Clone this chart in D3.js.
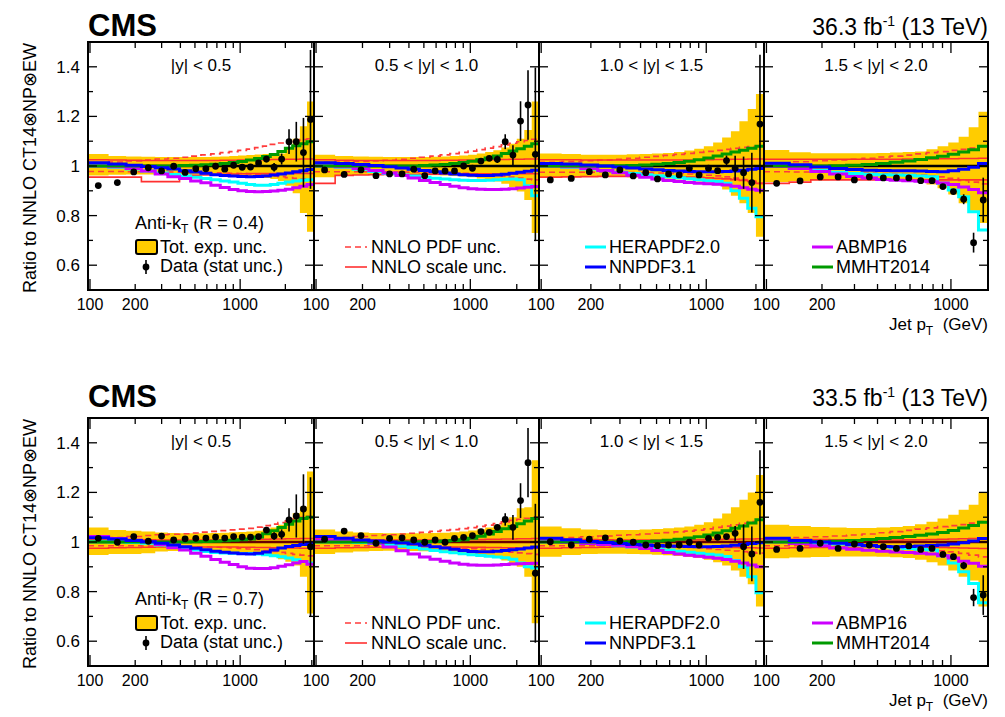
<!DOCTYPE html>
<html><head><meta charset="utf-8">
<script src="https://cdn.jsdelivr.net/npm/d3@7"></script>
<style>body{margin:0;background:#fff} svg{display:block} text{font-family:"Liberation Sans",Arial,Helvetica,sans-serif;fill:#000}</style>
</head><body><svg id="c" width="1005" height="717"></svg>
<script>
// ---------- shared axis data ----------
const binEdges = [97,133,174,220,272,330,395,468,548,638,737,846,967,1101,1248,1410,1588,1784,2000,2238,2500,2787,3103];
const rapidityLabels = ["|y| < 0.5","0.5 < |y| < 1.0","1.0 < |y| < 1.5","1.5 < |y| < 2.0"];
const yTickValues = [0.6,0.7,0.8,0.9,1.0,1.1,1.2,1.3,1.4];
const yTickLabels = ["0.6","0.8","1","1.2","1.4"];
const xMajorTicks = [100,1000];
const xMinorTicks = [200,300,400,500,600,700,800,900,2000,3000];
const xTickLabels = [100,200,1000];
const lumiLabels = ["36.3","33.5"];
const coneLabels = ["0.4","0.7"];
const legendPanel2 = ["NNLO PDF unc.","NNLO scale unc."];
const legendPanel3 = ["HERAPDF2.0","NNPDF3.1"];
const legendPanel4 = ["ABMP16","MMHT2014"];

// ---------- R = 0.4, |y|<0.5 ----------
const r04y1_data = [0.921,0.933,0.976,0.993,0.980,0.999,0.974,0.989,0.989,0.999,0.987,1.003,0.995,0.996,1.012,1.028,0.995,1.028,1.098,1.098,1.054,1.188];
const r04y1_err = [0.003,0.003,0.003,0.003,0.003,0.003,0.003,0.003,0.004,0.004,0.005,0.006,0.007,0.008,0.01,0.013,0.017,0.022,0.05,0.08,0.14,0.28];
const r04y1_bandHi = [1.048,1.04,1.038,1.037,1.036,1.036,1.036,1.036,1.036,1.037,1.038,1.04,1.042,1.044,1.046,1.048,1.05,1.05,1.07,1.11,1.16,1.26];
const r04y1_bandLo = [0.962,0.965,0.966,0.966,0.966,0.966,0.966,0.965,0.965,0.964,0.963,0.962,0.96,0.958,0.955,0.952,0.948,0.94,0.92,0.89,0.81,0.735];
const r04y1_pdfHi = [1.012,1.016,1.02,1.024,1.028,1.031,1.035,1.04,1.045,1.049,1.054,1.058,1.063,1.068,1.074,1.08,1.087,1.093,1.099,1.103,1.107,1.11];
const r04y1_pdfLo = [0.978,0.978,0.977,0.977,0.976,0.976,0.975,0.975,0.974,0.973,0.972,0.971,0.97,0.968,0.966,0.963,0.96,0.957,0.953,0.95,0.947,0.944];
const r04y1_scaleHi = [1.025,1.024,1.023,1.022,1.022,1.022,1.022,1.022,1.022,1.022,1.023,1.023,1.024,1.024,1.025,1.025,1.026,1.026,1.027,1.027,1.028,1.028];
const r04y1_scaleLo = [0.955,0.955,0.955,0.937,0.937,0.937,0.958,0.962,0.964,0.966,0.967,0.968,0.969,0.97,0.97,0.97,0.97,0.97,0.97,0.97,0.97,0.97];
const r04y1_hera = [1.0,0.995,0.988,0.98,0.972,0.966,0.96,0.955,0.95,0.945,0.94,0.935,0.93,0.925,0.922,0.922,0.925,0.93,0.935,0.94,0.943,0.945];
const r04y1_nnpdf = [1.013,1.008,1.003,0.998,0.993,0.988,0.981,0.976,0.971,0.965,0.962,0.96,0.958,0.957,0.958,0.96,0.964,0.968,0.972,0.977,0.981,0.986];
const r04y1_abmp = [1.0,0.997,0.99,0.98,0.968,0.957,0.95,0.94,0.932,0.922,0.913,0.905,0.9,0.897,0.896,0.897,0.899,0.902,0.906,0.912,0.918,0.925];
const r04y1_mmht = [1.0,1.0,1.0,1.0,1.0,1.0,1.002,1.003,1.005,1.007,1.01,1.014,1.018,1.024,1.03,1.038,1.046,1.058,1.072,1.082,1.09,1.098];

// ---------- R = 0.4, 0.5<|y|<1.0 ----------
const r04y2_data = [0.984,0.966,0.984,0.961,0.968,0.968,0.987,0.961,0.980,0.980,0.980,1.0,0.991,1.020,1.031,1.027,1.098,1.044,1.181,1.246,1.047];
const r04y2_err = [0.003,0.003,0.003,0.003,0.003,0.003,0.003,0.003,0.003,0.003,0.004,0.005,0.006,0.008,0.01,0.015,0.03,0.04,0.08,0.14,0.35];
const r04y2_bandHi = [1.045,1.04,1.038,1.037,1.036,1.036,1.036,1.036,1.037,1.038,1.04,1.042,1.045,1.05,1.056,1.064,1.075,1.09,1.11,1.145,1.26];
const r04y2_bandLo = [0.955,0.962,0.964,0.965,0.965,0.965,0.965,0.964,0.963,0.962,0.96,0.958,0.955,0.95,0.945,0.938,0.928,0.915,0.897,0.863,0.73];
const r04y2_pdfHi = [1.015,1.016,1.018,1.02,1.023,1.027,1.031,1.035,1.04,1.045,1.05,1.055,1.06,1.066,1.072,1.078,1.085,1.092,1.098,1.103,1.108];
const r04y2_pdfLo = [0.977,0.977,0.977,0.976,0.976,0.976,0.975,0.975,0.974,0.973,0.972,0.971,0.969,0.967,0.965,0.962,0.959,0.955,0.951,0.947,0.944];
const r04y2_scaleHi = [1.025,1.023,1.022,1.022,1.022,1.022,1.022,1.022,1.022,1.023,1.023,1.024,1.024,1.025,1.025,1.026,1.026,1.027,1.027,1.028,1.028];
const r04y2_scaleLo = [0.93,0.962,0.964,0.965,0.966,0.966,0.966,0.967,0.967,0.968,0.968,0.968,0.969,0.969,0.969,0.969,0.969,0.969,0.969,0.969,0.969];
const r04y2_hera = [1.0,0.995,0.987,0.978,0.97,0.964,0.96,0.955,0.951,0.948,0.945,0.943,0.942,0.942,0.943,0.945,0.947,0.948,0.945,0.92,0.88];
const r04y2_nnpdf = [1.013,1.01,1.006,1.002,0.997,0.992,0.987,0.982,0.977,0.972,0.968,0.965,0.963,0.962,0.962,0.964,0.967,0.971,0.975,0.979,0.983];
const r04y2_abmp = [1.0,0.997,0.99,0.982,0.972,0.962,0.952,0.942,0.933,0.925,0.918,0.912,0.908,0.906,0.905,0.905,0.906,0.908,0.911,0.914,0.917];
const r04y2_mmht = [1.0,1.0,1.0,1.0,1.0,1.0,1.0,1.002,1.004,1.006,1.01,1.014,1.019,1.025,1.032,1.04,1.05,1.06,1.07,1.08,1.09];

// ---------- R = 0.4, 1.0<|y|<1.5 ----------
const r04y3_data = [0.944,0.950,0.977,0.964,0.984,0.960,0.973,0.948,0.968,0.964,0.991,0.964,0.991,0.981,1.022,0.991,0.973,0.933,1.169];
const r04y3_err = [0.003,0.003,0.003,0.003,0.003,0.003,0.003,0.003,0.003,0.003,0.003,0.003,0.006,0.01,0.02,0.05,0.065,0.12,0.28];
const r04y3_bandHi = [1.05,1.048,1.045,1.045,1.045,1.047,1.048,1.05,1.052,1.056,1.062,1.07,1.08,1.095,1.115,1.14,1.18,1.23,1.29];
const r04y3_bandLo = [0.953,0.955,0.958,0.958,0.957,0.955,0.953,0.951,0.949,0.946,0.943,0.938,0.932,0.922,0.905,0.88,0.85,0.81,0.715];
const r04y3_pdfHi = [1.015,1.018,1.021,1.024,1.027,1.031,1.035,1.039,1.043,1.047,1.051,1.055,1.059,1.063,1.067,1.071,1.075,1.078,1.08];
const r04y3_pdfLo = [0.975,0.975,0.975,0.975,0.974,0.974,0.973,0.972,0.971,0.97,0.968,0.966,0.963,0.96,0.956,0.951,0.945,0.938,0.93];
const r04y3_scaleHi = [1.025,1.025,1.024,1.024,1.024,1.024,1.024,1.024,1.024,1.024,1.024,1.025,1.025,1.026,1.026,1.027,1.027,1.028,1.028];
const r04y3_scaleLo = [0.955,0.956,0.957,0.958,0.958,0.958,0.958,0.958,0.957,0.956,0.955,0.954,0.952,0.95,0.948,0.945,0.942,0.938,0.93];
const r04y3_hera = [1.0,0.995,0.988,0.981,0.975,0.97,0.965,0.961,0.957,0.953,0.949,0.945,0.941,0.937,0.93,0.9,0.87,0.83,0.795];
const r04y3_nnpdf = [1.01,1.008,1.004,1.0,0.996,0.992,0.988,0.985,0.982,0.98,0.978,0.977,0.977,0.977,0.978,0.98,0.983,0.987,0.99];
const r04y3_abmp = [1.0,0.997,0.99,0.982,0.973,0.963,0.955,0.948,0.942,0.937,0.933,0.93,0.928,0.926,0.923,0.918,0.912,0.906,0.902];
const r04y3_mmht = [1.0,1.0,1.0,1.0,1.001,1.002,1.004,1.007,1.01,1.014,1.019,1.025,1.032,1.04,1.048,1.056,1.064,1.072,1.08];

// ---------- R = 0.4, 1.5<|y|<2.0 ----------
const r04y4_data = [0.930,0.940,0.956,0.956,0.944,0.956,0.952,0.952,0.952,0.941,0.941,0.917,0.897,0.866,0.691,0.863];
const r04y4_err = [0.003,0.003,0.003,0.003,0.003,0.003,0.003,0.003,0.003,0.003,0.004,0.006,0.01,0.02,0.04,0.09];
const r04y4_bandHi = [1.065,1.055,1.051,1.051,1.051,1.051,1.052,1.054,1.056,1.058,1.068,1.08,1.095,1.118,1.156,1.219];
const r04y4_bandLo = [0.935,0.94,0.943,0.945,0.946,0.946,0.945,0.943,0.94,0.935,0.925,0.91,0.885,0.85,0.82,0.77];
const r04y4_pdfHi = [1.013,1.017,1.021,1.024,1.027,1.031,1.036,1.04,1.044,1.049,1.054,1.058,1.063,1.067,1.072,1.078];
const r04y4_pdfLo = [0.977,0.976,0.975,0.974,0.973,0.972,0.97,0.968,0.966,0.964,0.96,0.956,0.95,0.942,0.935,0.928];
const r04y4_scaleHi = [1.027,1.027,1.027,1.027,1.027,1.027,1.027,1.027,1.028,1.028,1.028,1.029,1.029,1.03,1.03,1.031];
const r04y4_scaleLo = [0.93,0.935,0.944,0.944,0.944,0.944,0.944,0.944,0.944,0.944,0.944,0.944,0.944,0.944,0.944,0.944];
const r04y4_hera = [0.998,0.99,0.982,0.975,0.97,0.967,0.965,0.964,0.963,0.96,0.957,0.93,0.903,0.876,0.816,0.742];
const r04y4_nnpdf = [1.011,1.005,0.996,0.99,0.986,0.983,0.982,0.981,0.981,0.98,0.978,0.977,0.981,0.987,0.995,1.01];
const r04y4_abmp = [0.998,0.99,0.978,0.968,0.958,0.952,0.946,0.943,0.941,0.939,0.936,0.931,0.925,0.915,0.905,0.892];
const r04y4_mmht = [1.0,1.0,1.0,1.001,1.003,1.006,1.01,1.015,1.02,1.026,1.033,1.039,1.047,1.056,1.066,1.08];

// ---------- R = 0.7, |y|<0.5 ----------
const r07y1_data = [1.015,0.999,1.022,1.003,1.024,1.008,1.013,1.015,1.016,1.02,1.016,1.022,1.02,1.02,1.022,1.048,1.024,1.031,1.089,1.105,1.133,0.981];
const r07y1_err = [0.002,0.002,0.002,0.002,0.002,0.002,0.002,0.002,0.002,0.002,0.002,0.002,0.002,0.002,0.004,0.006,0.015,0.02,0.047,0.087,0.14,0.28];
const r07y1_bandHi = [1.058,1.048,1.045,1.042,1.038,1.036,1.035,1.035,1.035,1.036,1.037,1.039,1.04,1.042,1.045,1.05,1.058,1.07,1.089,1.116,1.142,1.284];
const r07y1_bandLo = [0.948,0.952,0.952,0.955,0.962,0.964,0.965,0.965,0.964,0.963,0.962,0.96,0.958,0.955,0.952,0.948,0.942,0.93,0.92,0.905,0.86,0.712];
const r07y1_pdfHi = [1.015,1.018,1.022,1.026,1.029,1.031,1.033,1.036,1.04,1.043,1.046,1.049,1.052,1.055,1.06,1.066,1.072,1.078,1.085,1.093,1.1,1.104];
const r07y1_pdfLo = [0.985,0.985,0.985,0.984,0.984,0.983,0.982,0.981,0.98,0.979,0.978,0.976,0.974,0.972,0.969,0.966,0.962,0.958,0.954,0.95,0.947,0.944];
const r07y1_scaleHi = [1.012,1.011,1.01,1.009,1.008,1.008,1.008,1.008,1.008,1.008,1.009,1.009,1.01,1.01,1.011,1.011,1.012,1.012,1.013,1.013,1.014,1.014];
const r07y1_scaleLo = [0.975,0.977,0.978,0.979,0.98,0.98,0.98,0.98,0.98,0.98,0.98,0.98,0.979,0.979,0.978,0.978,0.977,0.977,0.976,0.976,0.975,0.975];
const r07y1_hera = [1.001,1.0,0.998,0.995,0.988,0.981,0.974,0.968,0.962,0.958,0.956,0.955,0.954,0.954,0.952,0.949,0.945,0.941,0.935,0.928,0.921,0.915];
const r07y1_nnpdf = [1.017,1.012,1.006,1.001,0.995,0.988,0.981,0.975,0.969,0.963,0.959,0.956,0.953,0.952,0.955,0.96,0.968,0.976,0.982,0.986,0.99,0.995];
const r07y1_abmp = [1.022,1.014,1.007,1.001,0.99,0.977,0.968,0.955,0.943,0.929,0.918,0.909,0.9,0.894,0.893,0.893,0.896,0.902,0.908,0.915,0.921,0.91];
const r07y1_mmht = [1.0,1.0,1.0,1.0,1.0,1.0,1.0,1.001,1.002,1.003,1.005,1.007,1.009,1.012,1.02,1.033,1.045,1.058,1.072,1.085,1.095,1.1];

// ---------- R = 0.7, 0.5<|y|<1.0 ----------
const r07y2_data = [1.011,1.044,1.026,0.995,1.015,1.017,1.008,0.999,1.008,0.999,1.015,1.019,1.026,1.042,1.039,1.059,1.091,1.059,1.167,1.32,0.874];
const r07y2_err = [0.002,0.002,0.002,0.002,0.002,0.002,0.002,0.002,0.002,0.002,0.002,0.002,0.002,0.004,0.006,0.01,0.025,0.05,0.07,0.14,0.28];
const r07y2_bandHi = [1.05,1.042,1.038,1.036,1.035,1.035,1.035,1.035,1.036,1.037,1.039,1.042,1.046,1.051,1.058,1.067,1.08,1.1,1.136,1.14,1.33];
const r07y2_bandLo = [0.952,0.958,0.962,0.964,0.965,0.965,0.964,0.963,0.962,0.96,0.958,0.955,0.952,0.948,0.943,0.935,0.925,0.914,0.9,0.86,0.672];
const r07y2_pdfHi = [1.015,1.018,1.022,1.026,1.029,1.032,1.035,1.039,1.043,1.047,1.05,1.054,1.058,1.063,1.068,1.074,1.081,1.087,1.092,1.096,1.1];
const r07y2_pdfLo = [0.985,0.985,0.985,0.984,0.984,0.983,0.982,0.981,0.98,0.979,0.977,0.975,0.973,0.971,0.968,0.965,0.962,0.959,0.956,0.953,0.95];
const r07y2_scaleHi = [1.012,1.011,1.01,1.009,1.008,1.008,1.008,1.008,1.008,1.008,1.009,1.009,1.01,1.01,1.011,1.011,1.012,1.012,1.013,1.013,1.014];
const r07y2_scaleLo = [0.975,0.977,0.978,0.979,0.98,0.98,0.98,0.98,0.98,0.98,0.98,0.98,0.979,0.979,0.978,0.978,0.977,0.977,0.976,0.976,0.975];
const r07y2_hera = [1.001,1.0,0.998,0.994,0.988,0.983,0.978,0.972,0.966,0.961,0.957,0.953,0.949,0.946,0.943,0.94,0.936,0.93,0.915,0.9,0.895];
const r07y2_nnpdf = [1.022,1.015,1.008,1.004,1.0,0.996,0.992,0.987,0.981,0.976,0.971,0.966,0.962,0.961,0.961,0.963,0.966,0.969,0.972,0.976,0.98];
const r07y2_abmp = [1.008,1.005,1.002,0.995,0.98,0.965,0.952,0.94,0.93,0.922,0.915,0.91,0.907,0.906,0.906,0.907,0.909,0.911,0.912,0.913,0.914];
const r07y2_mmht = [1.0,1.0,1.0,1.0,1.0,1.0,1.0,1.001,1.002,1.004,1.006,1.009,1.015,1.023,1.032,1.042,1.053,1.063,1.074,1.085,1.095];

// ---------- R = 0.7, 1.0<|y|<1.5 ----------
const r07y3_data = [1.001,0.988,1.011,1.017,1.004,0.999,0.988,0.985,0.988,0.988,0.999,0.988,1.015,1.019,1.022,1.035,0.981,0.952,1.16];
const r07y3_err = [0.002,0.002,0.002,0.002,0.002,0.002,0.002,0.002,0.002,0.002,0.002,0.002,0.004,0.006,0.01,0.03,0.09,0.11,0.21];
const r07y3_bandHi = [1.062,1.055,1.05,1.048,1.048,1.048,1.05,1.052,1.055,1.058,1.063,1.07,1.08,1.095,1.115,1.14,1.17,1.2,1.27];
const r07y3_bandLo = [0.941,0.948,0.952,0.953,0.953,0.952,0.951,0.949,0.947,0.944,0.94,0.935,0.928,0.918,0.905,0.885,0.86,0.83,0.74];
const r07y3_pdfHi = [1.015,1.018,1.021,1.024,1.027,1.029,1.032,1.035,1.038,1.041,1.044,1.048,1.053,1.059,1.064,1.069,1.075,1.082,1.089];
const r07y3_pdfLo = [0.985,0.985,0.985,0.985,0.984,0.984,0.983,0.982,0.981,0.98,0.978,0.976,0.973,0.97,0.967,0.964,0.961,0.958,0.955];
const r07y3_scaleHi = [1.012,1.011,1.01,1.009,1.008,1.008,1.008,1.008,1.008,1.008,1.009,1.009,1.01,1.01,1.011,1.011,1.012,1.012,1.013];
const r07y3_scaleLo = [0.975,0.977,0.978,0.979,0.98,0.98,0.98,0.98,0.98,0.98,0.98,0.98,0.979,0.979,0.978,0.978,0.977,0.977,0.976];
const r07y3_hera = [1.001,0.998,0.994,0.99,0.985,0.98,0.976,0.972,0.968,0.963,0.959,0.955,0.951,0.948,0.942,0.925,0.9,0.86,0.795];
const r07y3_nnpdf = [1.015,1.009,1.002,0.998,0.994,0.99,0.988,0.986,0.984,0.983,0.982,0.981,0.981,0.982,0.984,0.987,0.99,0.994,0.997];
const r07y3_abmp = [1.001,0.998,0.994,0.99,0.987,0.981,0.974,0.966,0.958,0.952,0.947,0.943,0.939,0.934,0.929,0.922,0.915,0.907,0.9];
const r07y3_mmht = [1.0,1.0,1.0,1.0,1.0,1.001,1.002,1.004,1.007,1.011,1.016,1.021,1.028,1.036,1.045,1.055,1.065,1.077,1.09];

// ---------- R = 0.7, 1.5<|y|<2.0 ----------
const r07y4_data = [0.970,0.974,0.995,0.974,0.992,0.988,0.981,0.974,0.984,0.970,0.974,0.950,0.941,0.905,0.776,0.786];
const r07y4_err = [0.003,0.003,0.003,0.003,0.003,0.003,0.003,0.003,0.003,0.003,0.003,0.003,0.005,0.015,0.035,0.08];
const r07y4_bandHi = [1.07,1.065,1.06,1.058,1.056,1.056,1.058,1.06,1.065,1.072,1.082,1.095,1.11,1.13,1.15,1.2];
const r07y4_bandLo = [0.934,0.938,0.94,0.942,0.942,0.942,0.941,0.939,0.935,0.928,0.918,0.905,0.885,0.86,0.845,0.74];
const r07y4_pdfHi = [1.015,1.018,1.021,1.024,1.028,1.032,1.037,1.042,1.047,1.052,1.057,1.062,1.066,1.07,1.076,1.082];
const r07y4_pdfLo = [0.985,0.985,0.984,0.983,0.982,0.981,0.979,0.977,0.975,0.972,0.969,0.965,0.96,0.954,0.947,0.94];
const r07y4_scaleHi = [1.012,1.011,1.01,1.009,1.008,1.008,1.008,1.008,1.009,1.009,1.01,1.011,1.012,1.013,1.014,1.015];
const r07y4_scaleLo = [0.975,0.977,0.978,0.979,0.98,0.98,0.98,0.98,0.98,0.979,0.979,0.978,0.977,0.976,0.975,0.974];
const r07y4_hera = [1.001,0.998,0.995,0.992,0.988,0.985,0.981,0.977,0.974,0.971,0.968,0.945,0.915,0.88,0.833,0.755];
const r07y4_nnpdf = [1.015,1.006,1.0,0.995,0.99,0.986,0.982,0.981,0.982,0.984,0.986,0.988,0.992,0.997,1.004,1.014];
const r07y4_abmp = [1.001,0.994,0.985,0.976,0.971,0.967,0.963,0.96,0.958,0.955,0.952,0.945,0.935,0.922,0.914,0.902];
const r07y4_mmht = [1.0,1.0,1.001,1.003,1.006,1.01,1.014,1.018,1.022,1.027,1.032,1.038,1.046,1.056,1.067,1.08];

// ---------- assemble ----------
function panel(data,err,bandHi,bandLo,pdfHi,pdfLo,scaleHi,scaleLo,hera,nnpdf,abmp,mmht){
  return {data,err,bandHi,bandLo,pdfHi,pdfLo,scaleHi,scaleLo,hera,nnpdf,abmp,mmht};
}
const plots = [
  {id:"a", top:42, cmsY:36, lineOne:"#000",
   panels:[
    panel(r04y1_data,r04y1_err,r04y1_bandHi,r04y1_bandLo,r04y1_pdfHi,r04y1_pdfLo,r04y1_scaleHi,r04y1_scaleLo,r04y1_hera,r04y1_nnpdf,r04y1_abmp,r04y1_mmht),
    panel(r04y2_data,r04y2_err,r04y2_bandHi,r04y2_bandLo,r04y2_pdfHi,r04y2_pdfLo,r04y2_scaleHi,r04y2_scaleLo,r04y2_hera,r04y2_nnpdf,r04y2_abmp,r04y2_mmht),
    panel(r04y3_data,r04y3_err,r04y3_bandHi,r04y3_bandLo,r04y3_pdfHi,r04y3_pdfLo,r04y3_scaleHi,r04y3_scaleLo,r04y3_hera,r04y3_nnpdf,r04y3_abmp,r04y3_mmht),
    panel(r04y4_data,r04y4_err,r04y4_bandHi,r04y4_bandLo,r04y4_pdfHi,r04y4_pdfLo,r04y4_scaleHi,r04y4_scaleLo,r04y4_hera,r04y4_nnpdf,r04y4_abmp,r04y4_mmht)]},
  {id:"b", top:418, cmsY:407, lineOne:"#6a0000",
   panels:[
    panel(r07y1_data,r07y1_err,r07y1_bandHi,r07y1_bandLo,r07y1_pdfHi,r07y1_pdfLo,r07y1_scaleHi,r07y1_scaleLo,r07y1_hera,r07y1_nnpdf,r07y1_abmp,r07y1_mmht),
    panel(r07y2_data,r07y2_err,r07y2_bandHi,r07y2_bandLo,r07y2_pdfHi,r07y2_pdfLo,r07y2_scaleHi,r07y2_scaleLo,r07y2_hera,r07y2_nnpdf,r07y2_abmp,r07y2_mmht),
    panel(r07y3_data,r07y3_err,r07y3_bandHi,r07y3_bandLo,r07y3_pdfHi,r07y3_pdfLo,r07y3_scaleHi,r07y3_scaleLo,r07y3_hera,r07y3_nnpdf,r07y3_abmp,r07y3_mmht),
    panel(r07y4_data,r07y4_err,r07y4_bandHi,r07y4_bandLo,r07y4_pdfHi,r07y4_pdfLo,r07y4_scaleHi,r07y4_scaleLo,r07y4_hera,r07y4_nnpdf,r07y4_abmp,r07y4_mmht)]}
];

const C = {band:"#ffcc00", pdf:"#ff3b3b", scale:"#ff3030", hera:"#00ffff", nnpdf:"#0000ff", abmp:"#cc00ff", mmht:"#009a00"};
const svg = d3.select("#c");
const defs = svg.append("defs");
const panelLeft = [88,314,539,764], panelRight = [314,539,764,988];
const H = 248;

plots.forEach((spec, pi) => {
  const top = spec.top, bot = top + H;
  const y = d3.scaleLinear().domain([0.5,1.5]).range([bot, top]);

  spec.panels.forEach((P, i) => {
    const L = panelLeft[i], R = panelRight[i];
    const nb = P.data.length;
    const edges = binEdges.slice(0, nb + 1);
    const x = d3.scaleLog().domain([edges[0], edges[nb]]).range([L, R]);
    const clipId = "clip" + spec.id + i;
    defs.append("clipPath").attr("id", clipId).append("rect")
      .attr("x", L).attr("y", top).attr("width", R - L).attr("height", H);
    const g = svg.append("g");
    const cg = g.append("g").attr("clip-path", `url(#${clipId})`);

    const steps = vals => { const p = []; vals.forEach((v,k) => { p.push([edges[k], v]); p.push([edges[k+1], v]); }); return p; };
    const line = d3.line().x(d => x(d[0])).y(d => y(d[1]));
    const bandPts = []; P.bandHi.forEach((h,k) => { bandPts.push([edges[k], P.bandLo[k], h]); bandPts.push([edges[k+1], P.bandLo[k], h]); });
    cg.append("path").attr("d", d3.area().x(d => x(d[0])).y0(d => y(d[1])).y1(d => y(d[2]))(bandPts)).attr("fill", C.band);

    const drawLine = (vals, color, w, dash) => {
      const p = cg.append("path").attr("d", line(steps(vals))).attr("fill","none").attr("stroke", color).attr("stroke-width", w);
      if (dash) p.attr("stroke-dasharray", dash);
    };
    drawLine(P.pdfHi, C.pdf, 1.6, "6,4");
    drawLine(P.pdfLo, C.pdf, 1.6, "6,4");
    drawLine(P.scaleHi, C.scale, 1.6);
    drawLine(P.scaleLo, C.scale, 1.6);
    cg.append("line").attr("x1", L).attr("x2", R).attr("y1", y(1)).attr("y2", y(1)).attr("stroke", spec.lineOne).attr("stroke-width", 2.5);
    drawLine(P.hera, C.hera, 3);
    drawLine(P.abmp, C.abmp, 3);
    drawLine(P.mmht, C.mmht, 3);
    drawLine(P.nnpdf, C.nnpdf, 3);

    // data
    const centers = P.data.map((v,k) => Math.sqrt(edges[k] * edges[k+1]));
    cg.selectAll(null).data(P.data).enter().append("line")
      .attr("x1", (d,k) => x(centers[k])).attr("x2", (d,k) => x(centers[k]))
      .attr("y1", (d,k) => y(d - P.err[k])).attr("y2", (d,k) => y(d + P.err[k]))
      .attr("stroke", "#000").attr("stroke-width", 1.6);
    cg.selectAll(null).data(P.data).enter().append("circle")
      .attr("cx", (d,k) => x(centers[k])).attr("cy", d => y(d)).attr("r", 3.4).attr("fill", "#000");

    // ticks
    const ax = g.append("g").attr("stroke", "#000").attr("stroke-width", 1.3);
    yTickValues.forEach(v => {
      const major = Math.abs((v * 10) % 2) < 0.01 || Math.abs((v*10)%2 - 2) < 0.01;
      const len = major ? 9 : 5;
      ax.append("line").attr("x1", L).attr("x2", L + len).attr("y1", y(v)).attr("y2", y(v));
      ax.append("line").attr("x1", R).attr("x2", R - len).attr("y1", y(v)).attr("y2", y(v));
    });
    const xd = x.domain();
    xMajorTicks.concat(xMinorTicks).filter(t => t >= xd[0] && t <= xd[1]).forEach(t => {
      const len = xMajorTicks.includes(t) ? 11 : 6;
      ax.append("line").attr("x1", x(t)).attr("x2", x(t)).attr("y1", bot).attr("y2", bot - len);
      ax.append("line").attr("x1", x(t)).attr("x2", x(t)).attr("y1", top).attr("y2", top + len);
    });
    // frame
    g.append("rect").attr("x", L).attr("y", top).attr("width", R - L).attr("height", H)
      .attr("fill", "none").attr("stroke", "#000").attr("stroke-width", 2);

    // x tick labels
    xTickLabels.forEach(t => {
      g.append("text").attr("x", x(t)).attr("y", bot + 20).attr("text-anchor", "middle")
        .attr("font-size", 16).text(t);
    });
    // panel title
    g.append("text").attr("x", (L + R) / 2).attr("y", top + 29).attr("text-anchor", "middle")
      .attr("font-size", 17).text(rapidityLabels[i]);

    // legends
    const ly1 = top + 205, ly2 = top + 225;
    if (i === 0) {
      const t = g.append("text").attr("x", L + 47).attr("y", top + 187).attr("font-size", 18);
      t.append("tspan").text("Anti-k");
      t.append("tspan").attr("font-size", 12).attr("dy", 4).text("T");
      t.append("tspan").attr("dy", -4).text(" (R = " + coneLabels[pi] + ")");
      g.append("rect").attr("x", L + 48).attr("y", top + 198).attr("width", 21).attr("height", 14)
        .attr("fill", C.band).attr("stroke", "#000").attr("stroke-width", 2).attr("rx", 2);
      g.append("text").attr("x", L + 72).attr("y", top + 211).attr("font-size", 18).text("Tot. exp. unc.");
      g.append("line").attr("x1", L + 58).attr("x2", L + 58).attr("y1", ly2 - 7).attr("y2", ly2 + 7).attr("stroke", "#000").attr("stroke-width", 1.6);
      g.append("circle").attr("cx", L + 58).attr("cy", ly2).attr("r", 3.4).attr("fill", "#000");
      g.append("text").attr("x", L + 72).attr("y", top + 230).attr("font-size", 18).text("Data (stat unc.)");
    } else {
      const cfg = [null,
        {x0:31, x1:53, tx:57, labels:legendPanel2, items:[[C.pdf,1.6,"6,4"],[C.scale,1.6,null]]},
        {x0:46, x1:67, tx:70, labels:legendPanel3, items:[[C.hera,3,null],[C.nnpdf,3,null]]},
        {x0:48, x1:69, tx:72, labels:legendPanel4, items:[[C.abmp,3,null],[C.mmht,3,null]]}][i];
      [ly1, ly2].forEach((ly, k) => {
        const [col, w, dash] = cfg.items[k];
        const l = g.append("line").attr("x1", L + cfg.x0).attr("x2", L + cfg.x1).attr("y1", ly).attr("y2", ly)
          .attr("stroke", col).attr("stroke-width", w);
        if (dash) l.attr("stroke-dasharray", dash);
        g.append("text").attr("x", L + cfg.tx).attr("y", ly + 6).attr("font-size", 18).text(cfg.labels[k]);
      });
    }
  });

  // y tick labels
  const yl = svg.append("g");
  yTickLabels.forEach(s => {
    yl.append("text").attr("x", 80).attr("y", y(+s) + 6).attr("text-anchor", "end").attr("font-size", 17).text(s);
  });
  // y axis title
  svg.append("text").attr("transform", `translate(36,${(top + bot) / 2 + 2}) rotate(-90)`)
    .attr("text-anchor", "middle").attr("font-size", 18).text("Ratio to NNLO CT14\u2297NP\u2297EW");
  // x axis title
  const xt = svg.append("text").attr("x", 988).attr("y", bot + 40).attr("text-anchor", "end").attr("font-size", 17);
  xt.append("tspan").text("Jet p");
  xt.append("tspan").attr("font-size", 12).attr("dy", 5).text("T");
  xt.append("tspan").attr("dy", -5).text("\u00a0\u00a0(GeV)");
  // CMS & lumi
  svg.append("text").attr("x", 88).attr("y", spec.cmsY).attr("font-size", 31).attr("font-weight", "bold").text("CMS");
  const lt = svg.append("text").attr("x", 988).attr("y", spec.cmsY - 1).attr("text-anchor", "end").attr("font-size", 23);
  lt.append("tspan").text(lumiLabels[pi] + " fb");
  lt.append("tspan").attr("font-size", 14).attr("dy", -9).text("-1");
  lt.append("tspan").attr("dy", 9).text(" (13 TeV)");
});
</script>
</body></html>
